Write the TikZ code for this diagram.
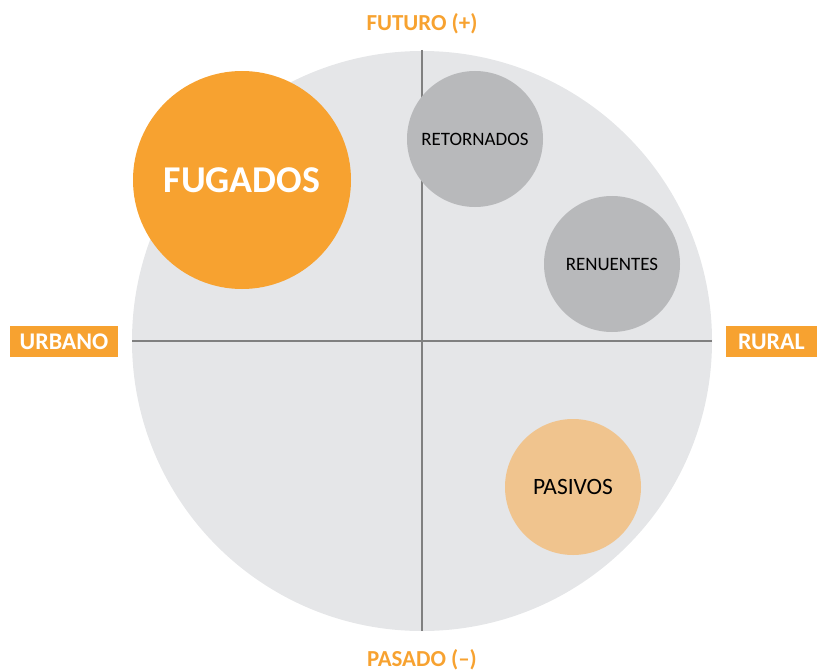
\documentclass[tikz,border=0pt]{standalone}
\usepackage{fontspec}
\setmainfont{Carlito}
\usepackage{tikz}
\usetikzlibrary{positioning}
\definecolor{naranja}{HTML}{F7A230}
\definecolor{naranjaclaro}{HTML}{F0C48E}
\definecolor{grisclaro}{HTML}{E5E6E8}
\definecolor{grismedio}{HTML}{B8B9BB}
\definecolor{grislinea}{HTML}{808080}
\begin{document}
\begin{tikzpicture}[x=1bp,y=-1bp,
  grupo/.style={circle,inner sep=0pt,minimum size=136bp,fill=grismedio,font=\fontsize{19}{19}\selectfont},
  eje/.style={fill=naranja,text=white,font=\bfseries\fontsize{24}{24}\selectfont,inner sep=0pt,minimum height=31bp},
  polo/.style={text=naranja,font=\bfseries\fontsize{23}{23}\selectfont}]
\useasboundingbox (0,0) rectangle (827,671);
\fill[grisclaro] (422,341) circle[radius=290bp];
% ejes
\coordinate (arriba) at (422,50);
\coordinate (abajo) at (422,631);
\coordinate (izq) at (132,341);
\coordinate (der) at (712,341);
\draw[grislinea,line width=2bp] (arriba) -- (abajo);
\draw[grislinea,line width=2bp] (izq) -- (der);
\node[polo] (futuro) at (422,24) {FUTURO (+)};
\node[polo] (pasado) at (422,660) {PASADO (--)};
\node[eje,minimum width=108bp] (urbano) at (64,341.5) {URBANO};
\node[eje,minimum width=91bp] (rural) at (771.5,341.5) {RURAL};
% grupos
\node[circle,inner sep=0pt,minimum size=218bp,fill=naranja,text=white,font=\bfseries\fontsize{38}{38}\selectfont] (fugados) at (242,180) {FUGADOS};
\node[grupo] (retornados) at (475,139) {RETORNADOS};
\node[grupo] (renuentes) at (612,264) {RENUENTES};
\node[grupo,fill=naranjaclaro,font=\fontsize{23.5}{23.5}\selectfont] (pasivos) at (573,487) {PASIVOS};
\end{tikzpicture}
\end{document}
